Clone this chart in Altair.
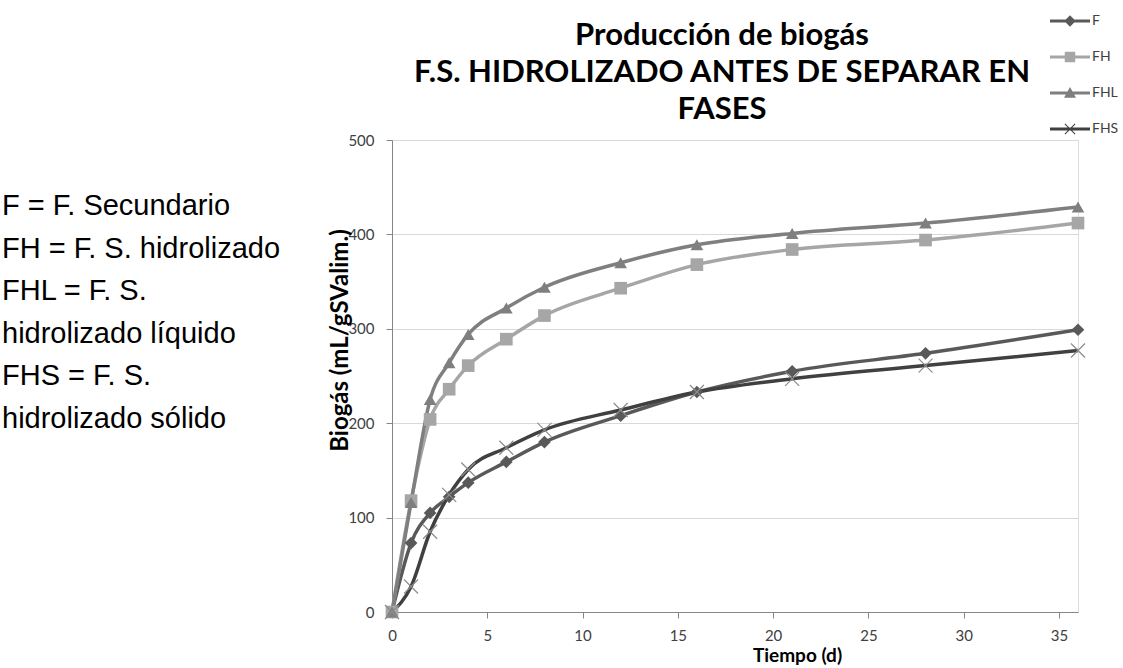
import altair as alt
import pandas as pd

# ---- data ----
days = [0, 1, 2, 3, 4, 6, 8, 12, 16, 21, 28, 36]
series_names = ["F", "FH", "FHL", "FHS"]
f_vals = [0, 73, 105, 122, 137, 159, 180, 208, 233, 255, 274, 299]
fh_vals = [0, 118, 204, 236, 261, 289, 314, 343, 368, 384, 394, 412]
fhl_vals = [0, 116, 225, 264, 294, 322, 344, 370, 389, 401, 412, 429]
fhs_vals = [0, 27, 85, 124, 151, 174, 193, 214, 233, 247, 261, 277]

x_ticks = [0, 5, 10, 15, 20, 25, 30, 35]
y_ticks = [0, 100, 200, 300, 400, 500]

title_lines = ["Producción de biogás", "F.S. HIDROLIZADO ANTES DE SEPARAR EN", "FASES"]
note_lines = [
    "F = F. Secundario",
    "FH = F. S. hidrolizado",
    "FHL = F. S.",
    "hidrolizado líquido",
    "FHS = F. S.",
    "hidrolizado sólido",
]

line_colors = ["#595959", "#a6a6a6", "#7f7f7f", "#404040"]
marker_shapes = ["diamond", "square", "triangle-up"]

rows = []
for name, vals in zip(series_names, [f_vals, fh_vals, fhl_vals, fhs_vals]):
    for d, v in zip(days, vals):
        rows.append({"serie": name, "dia": d, "biogas": v})
df = pd.DataFrame(rows)

FONT = "Lato"

# legend symbols: line with the series marker (custom paths)
P_F = "M-4,-0.3H4V0.3H-4Z M0,-1.15L1.15,0L0,1.15L-1.15,0Z"
P_FH = "M-4,-0.3H4V0.3H-4Z M-1.05,-1.05H1.05V1.05H-1.05Z"
P_FHL = "M-4,-0.3H4V0.3H-4Z M0,-1.2L1.2,0.95H-1.2Z"
P_FHS = ("M-4,-0.3H4V0.3H-4Z M-1.1,-0.95L-0.95,-1.1L1.1,0.95L0.95,1.1Z "
         "M-1.1,0.95L0.95,-1.1L1.1,-0.95L-0.95,1.1Z")

color_scale = alt.Scale(domain=series_names, range=line_colors)

x_enc = alt.X(
    "dia:Q",
    scale=alt.Scale(domain=[0, 36], nice=False),
    axis=alt.Axis(
        values=x_ticks, title="Tiempo (d)", grid=False, labelFlush=False,
        domainColor="#868686", tickColor="#868686", tickSize=6,
        labelFont=FONT, labelFontSize=15, labelColor="#404040", labelPadding=10,
        titleFont=FONT, titleFontSize=19, titleFontWeight="bold", titleColor="black",
        titleX=405, titleY=49, titleBaseline="alphabetic", titleAlign="center",
    ),
)
y_enc = alt.Y(
    "biogas:Q",
    scale=alt.Scale(domain=[0, 500], nice=False),
    axis=alt.Axis(
        values=y_ticks, title="Biogás (mL/gSValim.)", grid=True, gridColor="#d9d9d9",
        labelFlush=False,
        domainColor="#868686", tickColor="#868686", tickSize=6,
        labelFont=FONT, labelFontSize=15, labelColor="#404040", labelPadding=12,
        titleFont=FONT, titleFontSize=24, titleFontWeight="bold", titleColor="black",
        titleX=-52, titleY=200, titleAngle=270, titleAlign="center", titleBaseline="middle",
    ),
)

layers = []
# lines, one per series
for name, col in zip(series_names, line_colors):
    layers.append(
        alt.Chart(df).transform_filter(alt.datum.serie == name)
        .mark_line(strokeWidth=3.5, interpolate="monotone", color=col)
        .encode(x=x_enc, y=y_enc)
    )

# filled markers
for name, shp, col in zip(series_names[:3], marker_shapes, line_colors[:3]):
    layers.append(
        alt.Chart(df).transform_filter(alt.datum.serie == name)
        .mark_point(filled=True, opacity=1, size=160, shape=shp, color=col)
        .encode(x="dia:Q", y="biogas:Q")
    )

# thin X markers for FHS
layers.append(
    alt.Chart(df).transform_filter(alt.datum.serie == "FHS")
    .mark_point(shape="M-1,-1L1,1M-1,1L1,-1", filled=False, size=196,
                color="#8c8c8c", strokeWidth=1.2, opacity=1)
    .encode(x="dia:Q", y="biogas:Q")
)

# legend-only layer (no marks drawn; the legend comes from the scale domain)
leg = alt.Legend(
    orient="none", legendX=671, legendY=-126, title=None, padding=0,
    symbolSize=100, labelOffset=15, rowPadding=22, symbolStrokeWidth=0,
    symbolOpacity=1, labelFont=FONT, labelFontSize=14, labelColor="#404040",
)
layers.append(
    alt.Chart(df).transform_filter("false").mark_point(filled=True, opacity=1)
    .encode(
        x="dia:Q",
        y="biogas:Q",
        color=alt.Color("serie:N", scale=color_scale, legend=leg),
        shape=alt.Shape("serie:N", scale=alt.Scale(
            domain=series_names, range=[P_F, P_FH, P_FHL, P_FHS]), legend=leg),
    )
)

one_row = pd.DataFrame({"fila": [0]})

# chart title (three centred lines above the plot)
layers.append(
    alt.Chart(one_row).mark_text(
        align="center", baseline="alphabetic", font=FONT, fontSize=31,
        fontWeight="bold", lineHeight=37, color="black",
    ).encode(x=alt.value(330), y=alt.value(-95), text=alt.value(title_lines))
)

# side note on the left
layers.append(
    alt.Chart(one_row).mark_text(
        align="left", baseline="alphabetic", font="Liberation Sans", fontSize=29,
        lineHeight=42.6, color="black",
    ).encode(x=alt.value(-390), y=alt.value(75), text=alt.value(note_lines))
)

chart = alt.layer(*layers).properties(
    width=686,
    height=472,
    autosize=alt.AutoSizeParams(type="none"),
    padding={"left": 392, "top": 140, "right": 45, "bottom": 56},
).configure_view(stroke=None).configure(background="white")

chart.save("out.html", embed_options={"renderer": "svg", "actions": False})
